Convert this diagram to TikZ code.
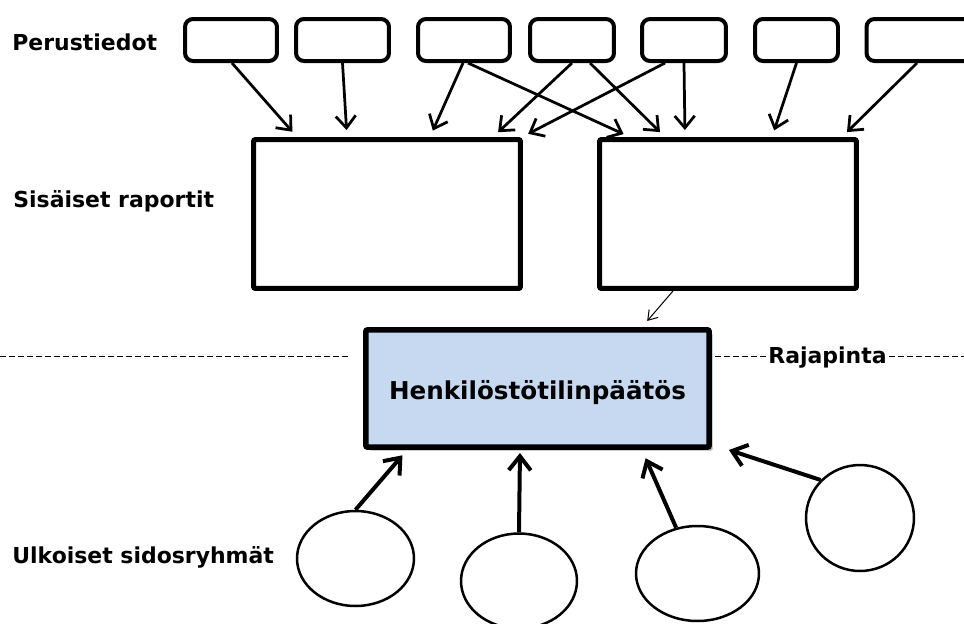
\documentclass[tikz,border=0pt]{standalone}
\usepackage{fontspec}
\setmainfont{DejaVu Sans}
\usetikzlibrary{arrows.meta}
\usetikzlibrary{shapes.geometric}
\usetikzlibrary{shadows}
\definecolor{henkblue}{HTML}{C6D9F1}

\begin{document}
\begin{tikzpicture}[x=0.02cm,y=-0.02cm,
  pbox/.style={draw=black,line width=0.08cm,rounded corners=0.16cm,fill=white,inner sep=0pt,minimum height=0.84cm},
  rbox/.style={draw=black,line width=0.1cm,rounded corners=0.04cm,fill=white,inner sep=0pt,minimum height=2.98cm},
  hbox/.style={draw=black,line width=0.11cm,fill=henkblue,rounded corners=0.04cm,inner sep=0pt,
    drop shadow={shadow xshift=0.07cm,shadow yshift=-0.07cm,fill=black,opacity=0.3},
    font=\fontsize{14}{17}\selectfont\bfseries,text height=13pt,text depth=0pt},
  sgroup/.style={ellipse,draw=black,line width=0.05cm,fill=white,inner sep=0pt,minimum height=1.9cm},
  parrow/.style={line width=0.055cm,-{Straight Barb[length=0.24cm,width=0.4cm]},shorten >=0.14cm},
  garrow/.style={line width=0.08cm,-{Straight Barb[length=0.28cm,width=0.44cm]}},
  thinarrow/.style={line width=0.02cm,-{Straight Barb[length=0.18cm,width=0.24cm]},shorten >=0.16cm},
  rajaline/.style={draw=black,line width=0.02cm,dash pattern=on 0.12cm off 0.06cm},
  lbl/.style={font=\fontsize{12.5}{15}\selectfont\bfseries,inner sep=0pt,anchor=base west}]
\useasboundingbox (0,0) rectangle (964,623);

\node[lbl] (lpt) at (12,50) {Perustiedot};
\node[lbl] (lsr) at (13,207) {Sisäiset raportit};
\node[lbl] (lus) at (12,563) {Ulkoiset sidosryhmät};

\node[pbox,minimum width=1.84cm] (pt1) at (231,40) {};
\node[pbox,minimum width=1.86cm] (pt2) at (342.5,40) {};
\node[pbox,minimum width=1.84cm] (pt3) at (464,40) {};
\node[pbox,minimum width=1.68cm] (pt4) at (572,40) {};
\node[pbox,minimum width=1.68cm] (pt5) at (684,40) {};
\node[pbox,minimum width=1.66cm] (pt6) at (796.5,40) {};
\node[pbox,minimum width=2.14cm] (pt7) at (920,40) {};

\node[rbox,minimum width=5.34cm] (sr1) at (387,214) {};
\node[rbox,minimum width=5.14cm] (sr2) at (728,214) {};

\draw[rajaline] (0,356) -- (350,356);
\draw[rajaline] (715,356) -- (766,356);
\draw[rajaline] (889,356) -- (964,356);
\node[lbl] (raja) at (768,363) {Rajapinta};

\node[hbox,minimum width=6.87cm,minimum height=2.35cm] (htp) at (537.5,388.5) {Henkilöstötilinpäätös};

\node[sgroup,minimum width=2.34cm] (us1) at (355.5,558.5) {};
\node[sgroup,minimum width=2.32cm] (us2) at (519,581) {};
\node[sgroup,minimum width=2.46cm] (us3) at (697.5,573.5) {};
\node[sgroup,minimum width=2.16cm,minimum height=2.12cm] (us4) at (860,518) {};

\draw[parrow] ([xshift=0.02cm]pt1.south) -- ([xshift=-1.8cm]sr1.north);
\draw[parrow] (pt2.south) -- ([xshift=-0.8cm]sr1.north);
\draw[parrow] ([xshift=-0.02cm]pt3.south) -- ([xshift=0.86cm]sr1.north);
\draw[parrow] ([xshift=0.08cm]pt3.south) -- ([xshift=-1.96cm]sr2.north);
\draw[parrow] (pt4.south) -- ([xshift=2.12cm]sr1.north);
\draw[parrow] ([xshift=0.36cm]pt4.south) -- ([xshift=-1.26cm]sr2.north);
\draw[parrow] ([xshift=-0.38cm]pt5.south) -- ([xshift=2.7cm]sr1.north);
\draw[parrow] (pt5.south) -- ([xshift=-0.86cm]sr2.north);
\draw[parrow] (pt6.south) -- ([xshift=0.88cm]sr2.north);
\draw[parrow] ([xshift=-0.06cm]pt7.south) -- ([xshift=2.28cm]sr2.north);

\draw[thinarrow] ([xshift=-1.1cm]sr2.south) -- ([xshift=2.09cm]htp.north);

\draw[garrow,shorten >=0.14cm] (us1.north) -- ([xshift=-2.61cm]htp.south);
\draw[garrow,shorten >=0.06cm] (us2.north) -- ([xshift=-0.35cm]htp.south);
\draw[garrow,shorten >=0.18cm] (us3.115) -- ([xshift=2.09cm]htp.south);
\draw[garrow] (us4.136) -- ([xshift=0.34cm]htp.south east);

\end{tikzpicture}
\end{document}
